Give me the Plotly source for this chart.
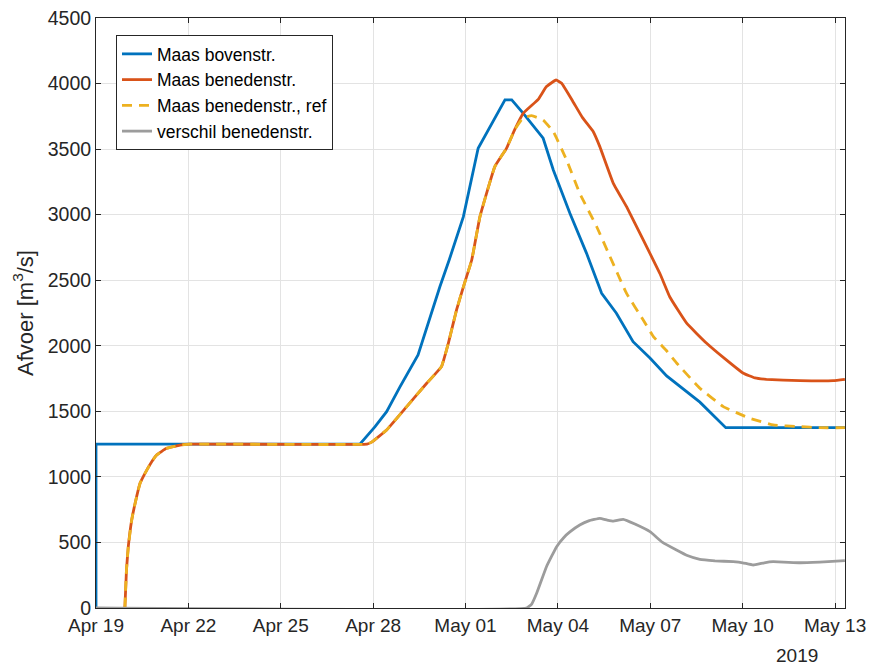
import plotly.graph_objects as go

# ---------------- data ----------------
boven_t = ["2019-04-19 00:00", "2019-04-19 00:00", "2019-04-27 13:40", "2019-04-28 01:30",
           "2019-04-28 10:30", "2019-04-28 21:00", "2019-04-29 11:00", "2019-04-29 16:20",
           "2019-04-30 04:00", "2019-04-30 11:15", "2019-04-30 22:20", "2019-05-01 09:50",
           "2019-05-02 06:45", "2019-05-02 12:00", "2019-05-02 21:00", "2019-05-03 12:30",
           "2019-05-03 20:25", "2019-05-04 09:20", "2019-05-04 22:20", "2019-05-05 10:05",
           "2019-05-05 21:35", "2019-05-06 10:35", "2019-05-06 23:45", "2019-05-07 12:45",
           "2019-05-08 14:40", "2019-05-09 10:50", "2019-05-13 07:40"]
boven_q = [0, 1250, 1250, 1383,
           1497, 1688, 1930, 2095,
           2450, 2654, 2985, 3506,
           3875, 3875, 3773, 3583,
           3341, 3011, 2705, 2400,
           2248, 2031, 1907, 1770,
           1570, 1375, 1375]

beneden_t = ["2019-04-19 22:30", "2019-04-19 23:45", "2019-04-20 01:10", "2019-04-20 03:50",
             "2019-04-20 06:30", "2019-04-20 10:20", "2019-04-20 14:10", "2019-04-20 19:25",
             "2019-04-20 23:15", "2019-04-21 07:00", "2019-04-21 17:30", "2019-04-22 01:10",
             "2019-04-27 19:10", "2019-04-27 22:50", "2019-04-28 10:30", "2019-04-29 02:10",
             "2019-04-29 17:45", "2019-04-30 05:15", "2019-04-30 10:35", "2019-04-30 17:00",
             "2019-04-30 22:20", "2019-05-01 04:50", "2019-05-01 11:15", "2019-05-01 22:50",
             "2019-05-02 07:55", "2019-05-02 14:25", "2019-05-02 20:55", "2019-05-03 08:40",
             "2019-05-03 15:05", "2019-05-03 22:35", "2019-05-04 02:55", "2019-05-04 11:45",
             "2019-05-04 19:10", "2019-05-05 03:35", "2019-05-05 08:40", "2019-05-05 19:10",
             "2019-05-06 05:30", "2019-05-06 18:30", "2019-05-07 07:25", "2019-05-07 15:20",
             "2019-05-08 04:20", "2019-05-08 19:55", "2019-05-09 11:15", "2019-05-10 00:30",
             "2019-05-10 09:35", "2019-05-10 18:30", "2019-05-11 20:40", "2019-05-12 22:35",
             "2019-05-13 07:40"]
beneden_q = [0, 290, 468, 671,
             799, 951, 1027, 1116,
             1167, 1218, 1243, 1250,
             1250, 1265, 1358, 1536,
             1714, 1841, 2019, 2273,
             2450, 2654, 2985, 3367,
             3506, 3650, 3773, 3880,
             3977, 4027, 4002, 3862,
             3740, 3633, 3519, 3239,
             3061, 2807, 2553, 2370,
             2172, 2019, 1892, 1790,
             1755, 1744, 1734, 1734,
             1744]

ref_t = ["2019-04-19 22:30", "2019-04-19 23:45", "2019-04-20 01:10", "2019-04-20 03:50",
         "2019-04-20 06:30", "2019-04-20 10:20", "2019-04-20 14:10", "2019-04-20 19:25",
         "2019-04-20 23:15", "2019-04-21 07:00", "2019-04-21 17:30", "2019-04-22 01:10",
         "2019-04-27 19:10", "2019-04-27 22:50", "2019-04-28 10:30", "2019-04-29 02:10",
         "2019-04-29 17:45", "2019-04-30 05:15", "2019-04-30 10:35", "2019-04-30 17:00",
         "2019-04-30 22:20", "2019-05-01 04:50", "2019-05-01 11:15", "2019-05-01 22:50",
         "2019-05-02 07:55", "2019-05-02 14:25", "2019-05-02 20:55", "2019-05-03 03:35",
         "2019-05-03 12:30", "2019-05-03 20:25", "2019-05-04 06:45", "2019-05-04 17:00",
         "2019-05-05 06:15", "2019-05-05 16:35", "2019-05-06 05:30", "2019-05-06 18:30",
         "2019-05-07 02:25", "2019-05-07 12:00", "2019-05-07 20:40", "2019-05-08 14:40",
         "2019-05-09 08:55", "2019-05-10 05:30", "2019-05-10 23:45", "2019-05-11 20:40",
         "2019-05-12 12:00", "2019-05-13 07:40"]
ref_q = [0, 290, 468, 671,
         799, 951, 1027, 1116,
         1167, 1218, 1243, 1250,
         1250, 1265, 1358, 1536,
         1714, 1841, 2019, 2273,
         2450, 2654, 2985, 3367,
         3506, 3650, 3740, 3755,
         3722, 3633, 3417, 3163,
         2908, 2680, 2400, 2197,
         2070, 1970, 1867, 1676,
         1536, 1447, 1396, 1383,
         1375, 1375]

verschil_t = ["2019-04-19 00:00", "2019-05-02 23:30", "2019-05-03 03:35", "2019-05-03 07:25",
              "2019-05-03 15:05", "2019-05-03 23:00", "2019-05-04 04:50", "2019-05-04 09:20",
              "2019-05-04 17:00", "2019-05-05 00:00", "2019-05-05 08:40", "2019-05-05 14:25",
              "2019-05-05 19:10", "2019-05-06 02:55", "2019-05-06 12:00", "2019-05-06 23:45",
              "2019-05-07 09:35", "2019-05-07 20:25", "2019-05-08 04:50", "2019-05-08 14:40",
              "2019-05-09 02:25", "2019-05-09 16:35", "2019-05-10 00:00", "2019-05-10 08:10",
              "2019-05-10 16:50", "2019-05-10 23:45", "2019-05-11 20:40", "2019-05-12 12:00",
              "2019-05-13 07:40"]
verschil_q = [0, 0, 30, 112,
              315, 468, 540, 580,
              633, 665, 684, 670,
              662, 676, 640, 582,
              500, 442, 400, 371,
              360, 353, 345, 328,
              345, 353, 345, 350,
              361]

names = ["Maas bovenstr.", "Maas benedenstr.", "Maas benedenstr., ref", "verschil benedenstr."]
x_tickvals = ["2019-04-19", "2019-04-22", "2019-04-25", "2019-04-28", "2019-05-01",
              "2019-05-04", "2019-05-07", "2019-05-10", "2019-05-13"]
x_ticktext = ["Apr 19", "Apr 22", "Apr 25", "Apr 28", "May 01",
              "May 04", "May 07", "May 10", "May 13"]
y_tickvals = [0, 500, 1000, 1500, 2000, 2500, 3000, 3500, 4000, 4500]
year_label = "2019"

# ---------------- figure ----------------
FONT = "Liberation Sans, Arial, Helvetica, sans-serif"
TXT = "#262626"

fig = go.Figure()
fig.add_trace(go.Scatter(x=boven_t, y=boven_q, mode="lines", name=names[0],
                         line=dict(color="#0072BD", width=2.8)))
fig.add_trace(go.Scatter(x=beneden_t, y=beneden_q, mode="lines", name=names[1],
                         line=dict(color="#D95319", width=2.8, shape="spline", smoothing=0.3)))
fig.add_trace(go.Scatter(x=ref_t, y=ref_q, mode="lines", name=names[2],
                         line=dict(color="#EDB120", width=2.8, dash="10px,7px",
                                   shape="spline", smoothing=0.3)))
fig.add_trace(go.Scatter(x=verschil_t, y=verschil_q, mode="lines", name=names[3],
                         line=dict(color="#9c9c9c", width=2.8, shape="spline", smoothing=0.3)))

fig.update_layout(
    width=869, height=663,
    margin=dict(l=96, r=24, t=18, b=55),
    paper_bgcolor="white", plot_bgcolor="white",
    font=dict(family=FONT, size=19.5, color=TXT),
    showlegend=True,
    legend=dict(x=0.0267, y=0.9712, xanchor="left", yanchor="top",
                bgcolor="white", bordercolor="#262626", borderwidth=1,
                font=dict(family=FONT, size=17.5, color="#000000"),
                itemwidth=30, tracegroupgap=0),
    xaxis=dict(
        type="date", automargin=False, ticklabeloverflow="allow",
        range=["2019-04-19 00:00", "2019-05-13 07:45"],
        tickmode="array", tickvals=x_tickvals, ticktext=x_ticktext,
        showgrid=True, gridcolor="#e3e3e3", gridwidth=1,
        showline=True, linecolor=TXT, linewidth=1, mirror="ticks",
        ticks="inside", ticklen=5, tickcolor=TXT,
        tickfont=dict(family=FONT, size=19, color=TXT),
        zeroline=False,
    ),
    yaxis=dict(
        range=[0, 4500], automargin=False, ticklabeloverflow="allow",
        tickmode="array", tickvals=y_tickvals,
        showgrid=True, gridcolor="#e3e3e3", gridwidth=1,
        showline=True, linecolor=TXT, linewidth=1, mirror="ticks",
        ticks="inside", ticklen=5, tickcolor=TXT,
        tickfont=dict(family=FONT, size=19.5, color=TXT),
        zeroline=False,
        title=dict(text="Afvoer [m<sup>3</sup>/s]", font=dict(family=FONT, size=22, color=TXT),
                   standoff=8),
    ),
    annotations=[dict(text=year_label, xref="paper", yref="paper", x=0.936, y=-0.059,
                      xanchor="center", yanchor="top", showarrow=False,
                      font=dict(family=FONT, size=19, color=TXT))],
)

# remove the default page margin so the 869x663 figure fills the window exactly
fig.write_html("out.html",
               config={"displayModeBar": False},
               post_script="document.body.style.margin='0';document.body.style.overflow='hidden';")
